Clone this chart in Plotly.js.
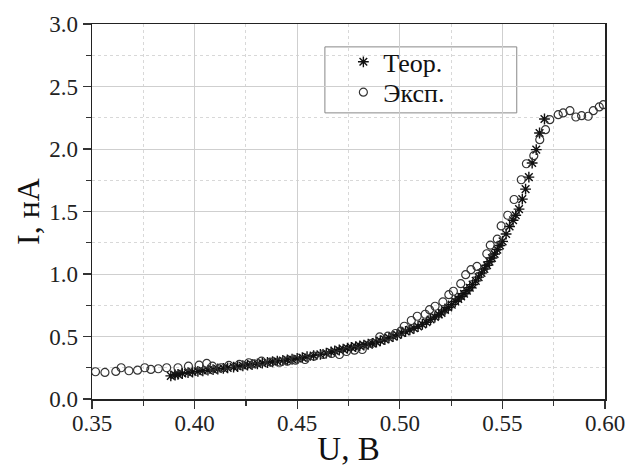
<!DOCTYPE html>
<html>
<head>
<meta charset="utf-8">
<script src="https://cdn.plot.ly/plotly-3.0.1.min.js"></script>
<style>
  html, body { margin: 0; padding: 0; background: #fff; }
  #chart { width: 630px; height: 467px; }
</style>
</head>
<body>
<div id="chart"></div>
<script>
// Theoretical I–U curve (U in volts, I in nA)
const theoryU = [
  0.3884, 0.3905, 0.3919, 0.3940, 0.3968, 0.3990, 0.4016, 0.4040, 0.4065, 0.4090,
  0.4113, 0.4140, 0.4161, 0.4190, 0.4210, 0.4235, 0.4258, 0.4280, 0.4306, 0.4330,
  0.4355, 0.4380, 0.4403, 0.4430, 0.4452, 0.4475, 0.4500, 0.4525, 0.4548, 0.4580,
  0.4613, 0.4642, 0.4665, 0.4683, 0.4705, 0.4724, 0.4745, 0.4764, 0.4785, 0.4805,
  0.4825, 0.4846, 0.4866, 0.4886, 0.4905, 0.4927, 0.4947, 0.4967, 0.4988, 0.5008,
  0.5028, 0.5049, 0.5069, 0.5089, 0.5110, 0.5130, 0.5150, 0.5171, 0.5190, 0.5203,
  0.5220, 0.5236, 0.5253, 0.5270, 0.5285, 0.5299, 0.5313, 0.5327, 0.5341, 0.5355,
  0.5370, 0.5384, 0.5398, 0.5412, 0.5425, 0.5437, 0.5449, 0.5462, 0.5475, 0.5488,
  0.5501, 0.5518, 0.5535, 0.5552, 0.5565, 0.5581, 0.5597, 0.5613, 0.5629, 0.5645,
  0.5665, 0.5681, 0.5705
];
const theoryI = [
  0.185, 0.192, 0.197, 0.204, 0.211, 0.216, 0.221, 0.226, 0.231, 0.235,
  0.240, 0.245, 0.249, 0.255, 0.260, 0.266, 0.271, 0.276, 0.281, 0.287,
  0.292, 0.298, 0.303, 0.308, 0.313, 0.318, 0.324, 0.331, 0.338, 0.347,
  0.357, 0.367, 0.376, 0.384, 0.392, 0.399, 0.406, 0.412, 0.419, 0.425,
  0.431, 0.438, 0.445, 0.455, 0.466, 0.476, 0.489, 0.500, 0.512, 0.528,
  0.540, 0.553, 0.566, 0.580, 0.597, 0.614, 0.636, 0.656, 0.676, 0.689,
  0.712, 0.732, 0.755, 0.780, 0.800, 0.820, 0.842, 0.866, 0.890, 0.915,
  0.945, 0.975, 1.008, 1.040, 1.070, 1.098, 1.128, 1.160, 1.195, 1.228,
  1.261, 1.320, 1.380, 1.430, 1.470, 1.519, 1.599, 1.679, 1.775, 1.888,
  1.995, 2.128, 2.240
];

// Measured I–U points
const expU = [
  0.3517, 0.3563, 0.3616, 0.3642, 0.3680, 0.3722, 0.3757, 0.3787, 0.3823, 0.3864,
  0.3919, 0.3970, 0.4022, 0.4059, 0.4087, 0.4129, 0.4167, 0.4218, 0.4264, 0.4290,
  0.4326, 0.4372, 0.4415, 0.4452, 0.4492, 0.4538, 0.4582, 0.4628, 0.4668, 0.4706,
  0.4740, 0.4779, 0.4817, 0.4863, 0.4902, 0.4942, 0.4979, 0.5005, 0.5022, 0.5056,
  0.5085, 0.5124, 0.5145, 0.5172, 0.5210, 0.5239, 0.5261, 0.5297, 0.5321, 0.5347,
  0.5376, 0.5424, 0.5441, 0.5475, 0.5494, 0.5526, 0.5557, 0.5592, 0.5617, 0.5653,
  0.5682, 0.5710, 0.5731, 0.5772, 0.5796, 0.5829, 0.5858, 0.5886, 0.5918, 0.5943,
  0.5972, 0.5992
];
const expI = [
  0.218, 0.213, 0.221, 0.250, 0.226, 0.231, 0.250, 0.237, 0.242, 0.250,
  0.250, 0.263, 0.271, 0.285, 0.263, 0.250, 0.269, 0.277, 0.290, 0.282,
  0.303, 0.295, 0.295, 0.303, 0.311, 0.316, 0.343, 0.356, 0.364, 0.356,
  0.380, 0.391, 0.396, 0.444, 0.497, 0.503, 0.524, 0.543, 0.582, 0.628,
  0.662, 0.678, 0.715, 0.742, 0.777, 0.835, 0.862, 0.923, 0.995, 1.035,
  1.061, 1.162, 1.231, 1.279, 1.385, 1.470, 1.596, 1.754, 1.882, 1.947,
  2.075, 2.155, 2.235, 2.275, 2.289, 2.307, 2.256, 2.267, 2.262, 2.307,
  2.337, 2.355
];

const seriesNames = ['Теор.', 'Эксп.'];
const xTickVals = [0.35, 0.40, 0.45, 0.50, 0.55, 0.60];
const yTickVals = [0.0, 0.5, 1.0, 1.5, 2.0, 2.5, 3.0];

const serif = 'Liberation Serif';

const traces = [
  {
    x: theoryU, y: theoryI, name: seriesNames[0], legend: 'legend',
    type: 'scatter', mode: 'markers',
    marker: { symbol: 'asterisk-open', size: 9, color: '#111',
              line: { color: '#111', width: 1.4 } }
  },
  {
    x: expU, y: expI, name: seriesNames[1], legend: 'legend2',
    type: 'scatter', mode: 'markers',
    marker: { symbol: 'circle-open', size: 8, color: '#333',
              line: { color: '#333', width: 1.2 } }
  }
];

// one legend row per series so the rows can sit close together
const legendRow = (y) => ({
  x: 0.49, y: y, xanchor: 'left', yanchor: 'middle',
  bgcolor: 'rgba(0,0,0,0)', borderwidth: 0,
  font: { family: serif, size: 26, color: '#111' },
  itemwidth: 30
});

const axisCommon = {
  showline: true, linecolor: '#222', linewidth: 1.5, mirror: true,
  ticks: 'outside', ticklen: 8, tickwidth: 1.2, tickcolor: '#333',
  showgrid: true, gridcolor: '#cfcfcf', gridwidth: 1,
  zeroline: false,
  tickfont: { family: serif, size: 23, color: '#222' }
};

const layout = {
  width: 630, height: 467,
  margin: { l: 92, r: 25, t: 24, b: 68 },
  font: { family: serif, color: '#111' },
  paper_bgcolor: '#fff', plot_bgcolor: '#fff',
  showlegend: true,
  legend: legendRow(0.899),
  legend2: legendRow(0.818),
  // frame around the legend entries
  shapes: [{
    type: 'rect', xref: 'paper', yref: 'paper', layer: 'below',
    x0: 0.454, x1: 0.828, y0: 0.763, y1: 0.939,
    line: { color: '#888', width: 1 }, fillcolor: '#fff'
  }],
  xaxis: Object.assign({}, axisCommon, {
    range: [0.35, 0.60], tickvals: xTickVals, tickformat: '.2f',
    ticklabelstandoff: -5,
    minor: { dtick: 0.025, tick0: 0.35, ticks: 'outside', ticklen: 5, tickcolor: '#333',
             showgrid: true, gridcolor: '#d8d8d8', griddash: 'dot', gridwidth: 1 },
    title: { text: 'U, B', font: { family: serif, size: 33, color: '#111' }, standoff: 6 }
  }),
  yaxis: Object.assign({}, axisCommon, {
    range: [0, 3.0], tickvals: yTickVals, tickformat: '.1f',
    minor: { dtick: 0.25, tick0: 0, ticks: 'outside', ticklen: 5, tickcolor: '#333',
             showgrid: true, gridcolor: '#d8d8d8', griddash: 'dot', gridwidth: 1 },
    title: { text: 'I, нА', font: { family: serif, size: 32, color: '#111' }, standoff: 0 }
  })
};

Plotly.newPlot('chart', traces, layout, { staticPlot: true, displayModeBar: false });
</script>
</body>
</html>
